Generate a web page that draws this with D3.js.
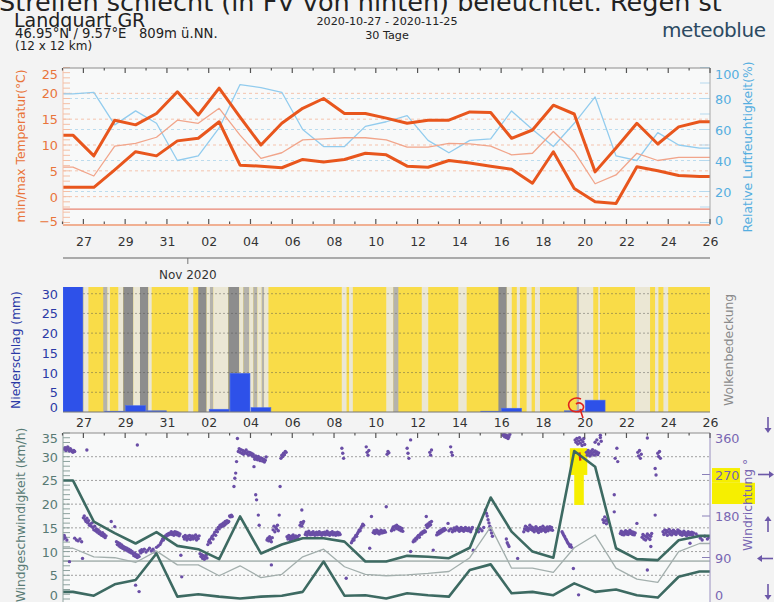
<!DOCTYPE html>
<html>
<head>
<meta charset="utf-8">
<script src="https://cdn.jsdelivr.net/npm/d3@7"></script>
<style>
  body { margin: 0; background: #f3f3f3; }
  svg { display: block; font-family: "DejaVu Sans", sans-serif; }
</style>
</head>
<body>
<svg id="chart" width="774" height="602"></svg>
<script>
// daily values, 26 Oct .. 25 Nov 2020 (one per day, drawn at noon)
const dayLabels = ['27', '29', '31', '02', '04', '06', '08', '10', '12', '14', '16', '18', '20', '22', '24', '26'];
const tempMax = [11.9, 7.9, 14.8, 13.9, 16.1, 20.3, 15.8, 21.0, 15.4, 10.0, 14.2, 17.1, 19.0, 16.1, 16.1, 15.2,
  14.2, 14.8, 14.8, 16.4, 16.3, 11.3, 12.9, 17.7, 16.0, 4.8, 9.4, 14.2, 10.2, 13.5, 14.5];
const tempMean = [5.7, 4.0, 9.8, 10.3, 11.5, 14.8, 14.2, 17.1, 11.9, 7.4, 8.5, 11.0, 11.2, 11.4, 11.4, 11.0,
  9.6, 9.6, 10.3, 10.2, 9.8, 8.1, 8.4, 12.6, 8.7, 2.5, 4.2, 8.4, 7.0, 7.6, 7.6];
const tempMin = [1.8, 1.8, 5.2, 8.7, 7.9, 10.8, 11.3, 14.5, 6.1, 5.9, 5.6, 7.2, 6.7, 7.2, 8.4, 8.1,
  5.9, 5.7, 7.0, 6.5, 5.9, 5.3, 2.6, 8.7, 1.6, -1.0, -1.3, 5.8, 5.0, 4.1, 3.9];
const humidity = [83, 84, 63, 72, 64, 40, 43, 61, 89, 87, 84, 60, 49, 49, 62, 65,
  69, 53, 45, 53, 54, 72, 60, 49, 64, 81, 43, 40, 58, 50, 48];
const frostLine = -2.4;

const precip = [36, 0, 0.2, 1.6, 0.3, 0, 0, 0.7, 9.8, 1.1, 0, 0, 0, 0, 0, 0, 0, 0, 0, 0,
  0.2, 0.95, 0, 0, 0.3, 3.0, 0, 0, 0, 0, 0];
// cloud cover stripes: [from day, to day, level 1 light .. 3 overcast]
const clouds = [[1.00, 1.24, 1], [1.95, 2.15, 2], [2.15, 2.27, 1], [2.67, 2.91, 1], [2.91, 3.39, 3], [3.39, 3.71, 1],
  [3.71, 4.11, 3], [4.11, 4.27, 1], [6.02, 6.26, 1], [6.50, 6.90, 3], [6.90, 7.06, 1], [7.06, 7.22, 2],
  [7.22, 7.94, 1], [7.94, 8.46, 3], [8.46, 8.66, 1], [8.66, 8.94, 2], [8.94, 9.14, 1], [9.14, 9.33, 2],
  [9.33, 9.54, 1], [9.54, 9.65, 2], [9.65, 9.86, 1], [13.37, 13.6, 1], [13.72, 13.9, 1], [15.5, 15.84, 1],
  [15.84, 16.08, 2], [17.2, 17.51, 1], [18.95, 19.35, 1], [20.87, 21.27, 3], [21.27, 21.51, 1], [21.75, 21.9, 1],
  [22.22, 22.46, 1], [22.62, 22.86, 1], [24.62, 24.73, 2], [24.73, 25.41, 1], [25.65, 25.73, 1], [27.41, 28.13, 1],
  [28.37, 28.53, 1], [28.77, 29.0, 1]];

const windMax = [25, 16.3, 13.9, 11.7, 14.1, 11.2, 10.5, 8.4, 17.4, 9.6, 11.5, 12.8, 12.8, 12.1, 7.9, 7.9,
  9.1, 8.9, 8.6, 10.8, 21.4, 14.2, 10.0, 8.7, 31.2, 27.9, 10.7, 8.4, 8.2, 12.4, 13.3];
const windMean = [10.7, 8.9, 8.7, 7.7, 10.1, 7.2, 7.2, 4.9, 7.0, 4.5, 5.2, 8.9, 10.5, 6.8, 5.2, 4.9,
  5.1, 5.4, 5.8, 8.7, 15.2, 6.5, 6.5, 5.6, 10.8, 13.5, 6.5, 4.2, 3.5, 10.0, 11.7];
const windMin = [1.5, 0.7, 3.1, 4.0, 9.6, 0.5, 1.0, 0.5, 0.1, 0.5, 0.7, 1.5, 7.9, 0.7, 0.8, 0.1,
  1.2, 0.8, 0.5, 6.1, 7.3, 1.2, 1.5, 0.8, 3.3, 1.5, 2.0, 0.8, 0.3, 4.7, 5.8];
const calmLine = 8;
// hourly wind direction: [hour since 26 Oct 00:00, degrees]
const windDir = [
  [2,325],[3,328],[4,322],[5,326],[6,330],[7,324],[8,321],[9,326],[10,323],[11,320],[12,318],[13,322],[14,320],
  [0,135],[1,130],[2,138],[3,133],[5,128],[14,132],[16,128],[18,126],[20,130],[22,124],[8,81],[28,323],[23,88],
  [24,176],[25,180],[26,172],[27,168],[28,175],[29,165],[30,170],[31,160],[32,163],[33,158],[34,165],[35,155],
  [36,150],[37,158],[38,148],[39,152],[40,145],[41,150],[42,142],[43,146],[44,140],[45,138],[46,144],[47,136],
  [48,140],[49,133],[50,137],[56,168],[60,157],
  [62,124],[63,118],[64,122],[65,115],[66,120],[67,112],[68,117],[69,110],[70,114],[71,108],[72,112],[73,106],
  [74,110],[75,104],[76,108],[77,102],[78,106],[79,100],[80,103],
  [81,98],[82,94],[83,100],[84,92],[85,96],[86,90],[87,95],[88,92],[84,30],[88,16],[86,334],
  [89,104],[90,100],[91,107],[92,103],[94,108],[96,102],[98,106],[100,110],[102,104],[104,108],[106,102],
  [108,112],[110,115],[112,118],[113,122],[114,126],[115,130],[116,128],[117,134],[118,137],[119,135],[120,140],
  [121,138],[122,142],[123,140],[124,143],
  [125,146],[126,140],[127,144],[128,138],[129,146],[130,141],[131,145],[132,139],[133,143],[134,137],[135,141],
  [136,95],[137,48],
  [139,135],[140,130],[141,138],[142,133],[143,128],[144,136],[145,131],[146,138],[147,129],[148,134],[149,137],
  [150,130],[151,136],[152,132],[153,139],[154,128],[155,135],[156,131],[157,137],
  [158,98],[159,92],[160,96],[161,88],[162,94],[163,86],[164,91],[165,95],[166,89],
  [167,118],[168,124],[169,128],[170,122],[171,132],[172,136],[173,130],[174,140],[175,145],[176,138],[177,150],
  [178,146],[179,155],[180,152],[181,160],
  [182,156],[183,162],[184,158],[185,165],[186,160],[187,168],[188,163],[189,170],[190,166],[191,168],
  [192,180],[193,178],[194,182],[195,179],[197,244],[198,262],[199,273],[200,298],[201,348],
  [202,320],[203,326],[204,318],[205,324],[206,316],[207,322],[208,314],[209,320],[210,317],[211,323],[212,315],
  [213,319],[214,312],[215,318],[216,313],[217,316],[218,310],[219,314],
  [220,308],[221,303],[222,310],[223,305],[224,302],[225,309],[226,304],[227,300],[228,306],[220,287],[222,226],
  [223,215],[225,182],[226,160],
  [229,305],[230,299],[231,303],[232,297],[233,301],[234,308],
  [235,128],[236,132],[237,126],[238,135],[239,130],[240,124],[241,133],[240,74],
  [242,150],[243,158],[244,146],[245,155],[246,152],[247,160],[248,148],[249,182],[250,244],
  [251,305],[252,312],[253,309],[254,316],[255,313],[256,320],[257,318],
  [258,135],[259,130],[260,138],[261,133],[262,128],[263,136],[264,131],[265,139],[266,134],[267,129],[268,137],
  [269,132],[270,135],[271,130],[272,138],
  [273,160],[274,166],[275,158],[276,164],[277,168],[275,193],
  [279,140],[280,145],[281,138],[282,143],[283,147],[284,141],[285,139],[286,144],[287,140],[288,146],[289,142],
  [290,138],[291,143],[292,145],[293,139],[294,141],[295,146],[296,140],[297,143],[298,138],[299,144],[300,141],
  [301,145],[302,139],[303,142],[304,147],[305,140],[306,143],[307,138],[308,144],[309,141],[310,146],[311,139],
  [312,142],[313,144],[314,138],[315,141],[316,145],[317,139],[318,143],[319,140],
  [321,327],[322,316],[323,305],[326,45],
  [332,122],[333,126],[334,130],[335,128],[336,134],[337,138],[338,136],[339,142],[340,146],[341,150],[342,148],
  [343,154],[344,158],[345,162],[346,160],
  [349,330],[350,318],[351,312],[352,322],[353,110],[355,179],
  [357,144],[358,148],[359,142],[360,146],[361,150],[362,143],[363,147],[364,141],[365,145],[366,149],[367,143],
  [368,147],[369,144],[370,148],[371,145],[372,200],[373,314],[374,320],[375,317],
  [378,148],[379,152],[380,156],[381,150],[382,158],[383,154],[384,160],[385,152],[386,157],[387,150],[388,155],
  [389,148],[390,153],[391,147],
  [396,327],[397,316],[398,305],[400,345],[400,103],
  [403,124],[404,128],[405,126],[406,132],[407,130],[408,135],[409,138],[410,134],[411,140],[412,143],[413,141],
  [414,146],[415,144],[416,148],[417,146],
  [418,160],[419,155],[420,163],[421,158],[422,166],[423,161],[424,168],[418,179],[422,318],[423,312],[424,323],
  [426,106],
  [430,139],[431,144],[432,141],[433,147],[434,143],[435,149],[436,146],[437,152],[438,148],[439,153],[440,150],
  [443,164],[446,330],[447,318],[448,312],
  [444,148],[446,152],[448,146],[449,150],[450,154],[451,148],[452,152],[453,156],[454,150],[455,153],[456,147],
  [457,151],[458,155],[459,149],[460,153],[461,147],[462,151],[463,155],[464,149],[465,152],[466,148],[467,154],
  [468,150],[469,146],[470,151],[471,155],[472,106],
  [476,150],[478,146],[480,152],[482,148],[484,155],
  [486,193],[487,186],[488,180],[489,172],[490,165],[491,158],[492,150],[493,143],[494,136],
  [506,355],[507,358],[508,352],[509,356],[510,350],[511,354],[512,348],[513,352],[514,357],
  [510,130],[511,122],[512,118],[513,114],[523,88],
  [530,146],[531,152],[532,158],[533,150],[534,155],[535,148],[536,153],[537,160],[538,151],[539,156],[540,149],
  [541,154],[542,146],[543,151],[544,157],[545,148],[546,153],[547,144],[548,150],[549,155],[550,147],[551,152],
  [552,158],[553,149],[554,154],[555,146],[556,151],[557,156],[558,148],[559,153],[560,157],[561,150],[562,155],
  [563,149],
  [574,146],[575,142],[576,138],[577,135],[578,131],[579,128],[580,124],[581,121],[582,118],[583,114],[584,117],
  [585,112],[587,66],
  [589,345],[590,340],[591,348],[592,336],[593,343],[594,350],[595,338],[596,345],[597,333],[598,341],[599,348],
  [600,335],[593,9],
  [602,318],[603,312],[604,322],[605,316],[606,310],[607,320],[608,314],[609,324],[610,318],[611,312],[612,321],
  [613,315],[614,319],[615,313],[616,317],[612,340],[614,345],[616,336],[618,350],[619,342],[618,355],
  [621,172],[622,166],[623,178],[624,170],[625,163],[626,174],[627,168],
  [634,226],[634,189],[637,327],[635,305],[638,298],
  [641,142],[642,147],[643,140],[644,145],[645,139],[646,144],[647,148],[648,141],[649,146],[650,140],[651,144],
  [652,149],[653,142],[654,146],[655,140],[656,145],[657,139],[658,143],
  [660,164],[661,318],[662,310],[663,322],[664,305],[665,314],
  [666,134],[667,140],[668,130],[669,137],[670,128],[671,135],[672,141],[673,132],[674,138],[675,129],[676,136],
  [677,142],[672,349],[672,63],[676,114],
  [681,182],[681,283],[682,269],[684,316],[685,309],[686,320],[687,305],
  [690,146],[691,140],[692,150],[693,143],[694,148],[695,138],[696,145],[697,151],[698,141],[699,147],[700,139],
  [701,144],[702,149],[703,142],[704,146],[705,140],[706,145],[707,150],[708,143],[709,147],
  [710,140],[711,145],[712,138],[713,143],[714,147],[715,140],[716,144],[717,137],[718,142],[719,146],[720,139],
  [721,144],[722,140],[723,145],[724,138],[725,143],[721,121],
  [728,141],[730,137],[733,132],[735,128],[738,136],[741,130],[743,134]
];

const svg = d3.select('#chart');
svg.append('rect').attr('width', 774).attr('height', 602).attr('fill', '#f3f3f3');

const t0 = new Date(Date.UTC(2020, 9, 26));
const t1 = new Date(Date.UTC(2020, 10, 26));
const x = d3.scaleUtc().domain([t0, t1]).range([62.5, 710]);
const atDay = d => new Date(+t0 + d * 864e5);
const atHour = h => new Date(+t0 + h * 36e5);
// daily points at noon, held flat out to both edges
const daily = arr => [[t0, arr[0]]].concat(arr.map((v, i) => [atDay(i + 0.5), v]), [[t1, arr[arr.length - 1]]]);
const labelDates = dayLabels.map((_, i) => atDay(1 + 2 * i));
const allDays = d3.utcDay.range(t0, atDay(31.5));
const isLabelDay = d => labelDates.some(l => +l === +d);
const PX0 = 63, PX1 = 710;

// ---- header ----
svg.append('text').attr('x', -1).attr('y', 11).attr('font-size', 25.5).attr('fill', '#222')
  .text('Streifen schlecht (in FV von hinten) beleuchtet. Regen st');
svg.append('text').attr('x', 14).attr('y', 27).attr('font-size', 19).attr('fill', '#222').text('Landquart GR');
svg.append('text').attr('x', 15).attr('y', 38).attr('font-size', 13.2).attr('fill', '#222')
  .attr('xml:space', 'preserve').text('46.95°N / 9.57°E   809m ü.NN.');
svg.append('text').attr('x', 15).attr('y', 50).attr('font-size', 12).attr('fill', '#222').text('(12 x 12 km)');
svg.append('text').attr('x', 387).attr('y', 25).attr('font-size', 11.2).attr('fill', '#222')
  .attr('text-anchor', 'middle').text('2020-10-27 - 2020-11-25');
svg.append('text').attr('x', 387).attr('y', 39).attr('font-size', 11.2).attr('fill', '#222')
  .attr('text-anchor', 'middle').text('30 Tage');
svg.append('text').attr('x', 766).attr('y', 37).attr('font-size', 20).attr('fill', '#2c4a62')
  .attr('text-anchor', 'end').attr('textLength', 104).text('meteoblue');

function clip(id, y0, y1) {
  svg.append('clipPath').attr('id', id).append('rect')
    .attr('x', PX0).attr('y', y0).attr('width', PX1 - PX0).attr('height', y1 - y0);
  return `url(#${id})`;
}
function dayTicks(y, dir) {
  svg.append('g').selectAll('line').data(allDays).join('line')
    .attr('x1', d => x(d)).attr('x2', d => x(d))
    .attr('y1', y).attr('y2', d => y + dir * (isLabelDay(d) ? 5 : 2.5))
    .attr('stroke', '#555').attr('stroke-width', 1.2);
}
function dayAxis(y) {
  const g = svg.append('g').attr('transform', `translate(0,${y})`)
    .call(d3.axisBottom(x).tickValues(labelDates).tickFormat((d, i) => dayLabels[i]).tickSize(0).tickPadding(0));
  g.select('.domain').remove();
  g.selectAll('text').attr('font-size', 12.5).attr('fill', '#333').attr('font-family', '"DejaVu Sans"').attr('dy', 0);
}
function yAxis(scale, side, values, color, nudge) {
  const ax = side === 'left' ? d3.axisLeft(scale) : d3.axisRight(scale);
  const g = svg.append('g').attr('transform', `translate(${side === 'left' ? PX0 : PX1},0)`)
    .call(ax.tickValues(values).tickSize(0).tickPadding(5));
  g.select('.domain').remove();
  g.selectAll('text').attr('font-size', 12.8).attr('fill', color).attr('font-family', '"DejaVu Sans"')
    .attr('dy', (d, i) => (nudge[i] || 0) + 4.5);
}
function title(tx, ty, text, color) {
  svg.append('text').attr('transform', `translate(${tx},${ty}) rotate(-90)`).attr('text-anchor', 'middle')
    .attr('font-size', 12.3).attr('fill', color).text(text);
}
function hline(y, color, dash, w) {
  svg.append('line').attr('x1', PX0).attr('x2', PX1).attr('y1', y).attr('y2', y)
    .attr('stroke', color).attr('stroke-dasharray', dash).attr('stroke-width', w || 1);
}

// ---- temperature / humidity panel ----
const yT = d3.scaleLinear().domain([-5, 25]).range([222.5, 67.5]);
const yH = d3.scaleLinear().domain([0, 100]).range([222.5, 67.5]);
svg.append('rect').attr('x', PX0).attr('y', 68).attr('width', PX1 - PX0).attr('height', 157).attr('fill', '#f8f9f9');
[0, 5, 10, 15, 20].forEach(v => hline(yT(v), '#f5c3ad', '3,3'));
[20, 40, 60, 80].forEach(v => hline(yH(v), '#bcdcee', '3,3'));
hline(yT(frostLine), '#e98573', null, 1.2);
svg.append('g').selectAll('line').data(d3.range(-5, 26)).join('line')
  .attr('x1', PX0).attr('x2', PX0 + 7).attr('y1', d => yT(d)).attr('y2', d => yT(d)).attr('stroke', '#f4bfa5');
svg.append('g').selectAll('line').data(d3.range(0, 101, 10)).join('line')
  .attr('x1', PX1 - 10).attr('x2', PX1).attr('y1', d => yH(d)).attr('y2', d => yH(d)).attr('stroke', '#b6d9ee');
const topClip = clip('cTop', 68, 225);
const lineT = d3.line().x(d => x(d[0])).y(d => yT(d[1]));
const lineH = d3.line().x(d => x(d[0])).y(d => yH(d[1]));
const gTop = svg.append('g').attr('clip-path', topClip).attr('fill', 'none').attr('stroke-linejoin', 'round');
gTop.append('path').attr('d', lineH(daily(humidity))).attr('stroke', '#92ccee').attr('stroke-width', 1.3);
gTop.append('path').attr('d', lineT(daily(tempMean))).attr('stroke', '#f1a58b').attr('stroke-width', 1.3);
gTop.append('path').attr('d', lineT(daily(tempMax))).attr('stroke', '#e8561d').attr('stroke-width', 3);
gTop.append('path').attr('d', lineT(daily(tempMin))).attr('stroke', '#e8561d').attr('stroke-width', 3);
svg.append('line').attr('x1', PX0).attr('x2', PX1).attr('y1', 68).attr('y2', 68).attr('stroke', '#8c8c8c');
svg.append('line').attr('x1', PX0).attr('x2', PX1).attr('y1', 225).attr('y2', 225).attr('stroke', '#f0b093').attr('stroke-width', 2);
svg.append('line').attr('x1', PX0).attr('x2', PX0).attr('y1', 68).attr('y2', 225).attr('stroke', '#f3c0a8');
svg.append('line').attr('x1', PX1).attr('x2', PX1).attr('y1', 68).attr('y2', 225).attr('stroke', '#a5a5a5');
dayTicks(68, 1);
dayTicks(224, -1);
yAxis(yT, 'left', [-5, 0, 5, 10, 15, 20, 25], '#e9743a', [-2, 0, 0, 0, 0, 0, 6]);
yAxis(yH, 'right', [0, 20, 40, 60, 80, 100], '#55aee0', [-3, 0, 0, 0, 0, 6]);
title(25, 146, 'min/max Temperatur(°C)', '#e9743a');
title(752, 147, 'Relative Luftfeuchtigkeit(%)', '#55aee0');
dayAxis(246);

// month line
svg.append('line').attr('x1', PX0).attr('x2', PX1).attr('y1', 258).attr('y2', 258).attr('stroke', '#aaa').attr('stroke-width', 2);
const nov1 = new Date(Date.UTC(2020, 10, 1));
svg.append('line').attr('x1', x(nov1)).attr('x2', x(nov1)).attr('y1', 258).attr('y2', 264).attr('stroke', '#777');
svg.append('text').attr('x', x(nov1)).attr('y', 279).attr('text-anchor', 'middle').attr('font-size', 12)
  .attr('fill', '#333').text(d3.utcFormat('%b %Y')(nov1));

// ---- precipitation / cloud panel ----
const yP = d3.scaleLinear().domain([0, 31.7]).range([412, 287]);
const cloudColor = ['#f9dc48', '#ebe7d4', '#b5b3ac', '#8d8d8d'];
svg.append('rect').attr('x', PX0).attr('y', 287).attr('width', PX1 - PX0).attr('height', 125).attr('fill', cloudColor[0]);
svg.append('g').selectAll('rect').data(clouds).join('rect')
  .attr('x', d => x(atDay(d[0]))).attr('width', d => x(atDay(d[1])) - x(atDay(d[0])))
  .attr('y', 287).attr('height', 125).attr('fill', d => cloudColor[d[2]]);
[5, 10, 15, 20, 25, 30].forEach(v => hline(yP(v), 'rgba(80,80,80,0.45)', '2,2'));
const midClip = clip('cMid', 287, 412);
svg.append('g').attr('clip-path', midClip).selectAll('rect').data(precip.map((v, i) => [i, v]).filter(d => d[1] > 0)).join('rect')
  .attr('x', d => x(atDay(d[0])) + 0.5).attr('width', d => x(atDay(d[0] + 1)) - x(atDay(d[0])) - 1)
  .attr('y', d => yP(d[1])).attr('height', d => yP(0) - yP(d[1]))
  .attr('fill', '#2e51e9').attr('stroke', '#4a6cf0').attr('stroke-width', 0.6);
svg.append('line').attr('x1', PX0).attr('x2', PX1).attr('y1', 412).attr('y2', 412).attr('stroke', '#777');
yAxis(yP, 'left', [0, 5, 10, 15, 20, 25, 30], '#2b3aa6', [-5, 0, 0, 0, 0, 0, 0]);
title(20, 350, 'Niederschlag (mm)', '#2b3aa6');
title(733, 350, 'Wolkenbedeckung', '#8a8a8a');
dayAxis(427);

// ---- wind panel ----
const yW = d3.scaleLinear().domain([0, 35]).range([599, 433]);
const yD = d3.scaleLinear().domain([0, 360]).range([599, 433]);
svg.append('rect').attr('x', PX0).attr('y', 433).attr('width', PX1 - PX0).attr('height', 169).attr('fill', '#f8f9f9');
[5, 10, 15, 20, 25, 30].forEach(v => hline(yW(v), '#a0a0a0', '2,2'));
hline(yW(calmLine), '#7c8e8a', null, 1);
svg.append('g').selectAll('line').data(d3.range(0, 36)).join('line')
  .attr('x1', PX0).attr('x2', PX0 + 7).attr('y1', d => yW(d)).attr('y2', d => yW(d)).attr('stroke', '#8ea29e');
svg.append('g').selectAll('line').data([90, 180, 270]).join('line')
  .attr('x1', PX1 - 8).attr('x2', PX1).attr('y1', d => yD(d)).attr('y2', d => yD(d)).attr('stroke', '#8a80b8');

// annotation highlight (behind the dots)
const hl = svg.append('g').attr('fill', '#f6ef00');
hl.append('rect').attr('x', x(atHour(583))).attr('width', x(atHour(603)) - x(atHour(583)))
  .attr('y', yD(327)).attr('height', yD(269) - yD(327));
hl.append('rect').attr('x', x(atHour(588))).attr('width', x(atHour(599)) - x(atHour(588)))
  .attr('y', yD(270)).attr('height', yD(204) - yD(270));

const botClip = clip('cBot', 433, 602);
const gBot = svg.append('g').attr('clip-path', botClip);
gBot.append('g').selectAll('circle').data(windDir).join('circle')
  .attr('cx', d => x(atHour(d[0]))).attr('cy', d => yD(d[1])).attr('r', 1.7).attr('fill', '#6a4ea6');
gBot.append('line').attr('x1', x(atHour(594))).attr('x2', x(atHour(595)))
  .attr('y1', yD(318)).attr('y2', yD(300)).attr('stroke', '#e5231e').attr('stroke-width', 2.2);
const lineW = d3.line().x(d => x(d[0])).y(d => yW(d[1]));
const gW = gBot.append('g').attr('fill', 'none').attr('stroke-linejoin', 'round');
gW.append('path').attr('d', lineW(daily(windMean))).attr('stroke', '#a3afad').attr('stroke-width', 1.3);
gW.append('path').attr('d', lineW(daily(windMax))).attr('stroke', '#3d6a62').attr('stroke-width', 2.6);
gW.append('path').attr('d', lineW(daily(windMin))).attr('stroke', '#3d6a62').attr('stroke-width', 2.6);
svg.append('line').attr('x1', PX0).attr('x2', PX1).attr('y1', 433).attr('y2', 433).attr('stroke', '#8c8c8c');
svg.append('line').attr('x1', PX0).attr('x2', PX0).attr('y1', 433).attr('y2', 602).attr('stroke', '#8ea29e');
svg.append('line').attr('x1', PX1).attr('x2', PX1).attr('y1', 433).attr('y2', 602).attr('stroke', '#9a90c0');
dayTicks(433, 1);
yAxis(yW, 'left', [0, 5, 10, 15, 20, 25, 30, 35], '#587a74', [-4, 0, 0, 0, 0, 0, 0, 5]);

// yellow marker by the direction axis
const hr = svg.append('g').attr('fill', '#f6ef00');
hr.append('rect').attr('x', 712).attr('width', 28).attr('y', yD(284)).attr('height', yD(252) - yD(284));
hr.append('rect').attr('x', 712).attr('width', 43).attr('y', yD(252)).attr('height', yD(206) - yD(252));
yAxis(yD, 'right', [0, 90, 180, 270, 360], '#7866b2', [-4, 0, 0, 0, 5]);
title(752, 505, 'Windrichtung °', '#7866b2');
title(25, 515, 'Windgeschwindigkeit (km/h)', '#587a74');

// compass arrows
function arrow(cx, cy, angle) {
  svg.append('g').attr('transform', `translate(${cx},${cy}) rotate(${angle})`)
    .call(g => {
      g.append('line').attr('x1', 0).attr('x2', 0).attr('y1', -8).attr('y2', 4).attr('stroke', '#6c58a8').attr('stroke-width', 1.6);
      g.append('path').attr('d', 'M-3.5,3 L3.5,3 L0,8 Z').attr('fill', '#6c58a8');
    });
}
arrow(768, 425, 0);
arrow(766, yD(270), -90);
arrow(768, yD(180) + 8, 180);
arrow(765, yD(90) + 1, 90);
arrow(768, 592, 0);

// red circle note in precipitation panel
svg.append('path')
  .attr('d', 'M581,399 C574,396 567,401 569,407 C571,413 580,413 583,409 C585,405 580,401 576,404 M580,409 L583,418')
  .attr('fill', 'none').attr('stroke', '#e0231d').attr('stroke-width', 1.6);
</script>
</body>
</html>
